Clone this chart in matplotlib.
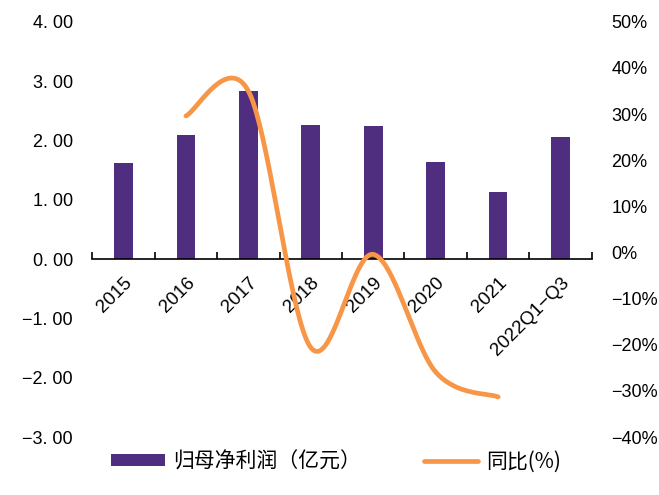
import numpy as np
import matplotlib.pyplot as plt
from matplotlib.ticker import FixedLocator, FuncFormatter
from matplotlib.lines import Line2D
from matplotlib.patches import Patch

plt.rcParams['font.family'] = ['Liberation Sans', 'Noto Sans CJK SC', 'DejaVu Sans']

# data
years = ["2015", "2016", "2017", "2018", "2019", "2020", "2021", "2022Q1\u2212Q3"]
profit = [1.62, 2.10, 2.84, 2.26, 2.24, 1.64, 1.13, 2.05]
yoy_years = ["2016", "2017", "2018", "2019", "2020", "2021"]
yoy = [29.6, 35.0, -20.6, -0.4, -25.9, -31.3]

bar_color = "#4F2D7F"
line_color = "#F79646"


# smoothed curve (Catmull-Rom, like Excel's smoothed line)
def smooth(xs, ys, n=40):
    xs = np.asarray(xs, float)
    ys = np.asarray(ys, float)
    px = np.concatenate([[xs[0]], xs, [xs[-1]]])
    py = np.concatenate([[ys[0]], ys, [ys[-1]]])
    out_x, out_y = [], []
    for i in range(1, len(px) - 2):
        t = np.linspace(0, 1, n)
        for p, out in ((px, out_x), (py, out_y)):
            p0, p1, p2, p3 = p[i - 1], p[i], p[i + 1], p[i + 2]
            out.extend(0.5 * ((2 * p1) + (-p0 + p2) * t
                              + (2 * p0 - 5 * p1 + 4 * p2 - p3) * t ** 2
                              + (-p0 + 3 * p1 - 3 * p2 + p3) * t ** 3))
    return np.array(out_x), np.array(out_y)


fig = plt.figure(figsize=(6.59, 4.95), dpi=100)
ax = fig.add_axes([0.14, 0.117, 0.758, 0.839])
x = np.arange(len(years))
ax.bar(x, profit, width=0.3, color=bar_color, zorder=2)
ax.set_xlim(-0.5, len(years) - 0.5)
ax.set_ylim(-3, 4)
ax.set_yticks(np.arange(-3, 5, 1))
ax.yaxis.set_major_formatter(FuncFormatter(
    lambda v, p: ("{:.2f}".format(v)).replace("-", "\u2212").replace(".", ". ")))
ax.tick_params(axis='y', length=0, labelsize=13, pad=14)
for s in ['top', 'right', 'left']:
    ax.spines[s].set_visible(False)
ax.spines['bottom'].set_position(('data', 0))
ax.spines['bottom'].set_linewidth(1.2)
ax.set_xticks(x)
ax.set_xticklabels(years, rotation=45, ha='right', rotation_mode='anchor', fontsize=13.5)
ax.tick_params(axis='x', which='major', length=0, pad=11)
ax.xaxis.set_minor_locator(FixedLocator(np.arange(-0.5, len(years), 1)))
ax.tick_params(axis='x', which='minor', direction='in', length=5, width=1.2)

ax2 = ax.twinx()
ax2.set_position(ax.get_position())
ax2.set_ylim(-40, 50)
ax2.set_yticks(np.arange(-40, 60, 10))
ax2.yaxis.set_major_formatter(FuncFormatter(
    lambda v, p: ("{:.0f}%".format(v)).replace("-", "\u2212")))
ax2.tick_params(axis='y', length=0, labelsize=13, pad=14)
for s in ax2.spines.values():
    s.set_visible(False)
lx = [years.index(y) for y in yoy_years]
sx, sy = smooth(lx, yoy)
ax2.plot(sx, sy, color=line_color, lw=3.4, solid_capstyle='round', zorder=3)

handles = [Patch(facecolor=bar_color, edgecolor='none'),
           Line2D([0], [0], color=line_color, lw=3.4, solid_capstyle='round')]
fig.legend(handles, ["归母净利润（亿元）", "同比(%)"], loc='center',
           bbox_to_anchor=(0.51, 0.068), ncol=2, frameon=False,
           handlelength=2.6, handleheight=0.45, columnspacing=3.0, handletextpad=0.4,
           prop={'family': ['Noto Sans CJK SC', 'DejaVu Sans'], 'size': 15})

fig.savefig("out.png", dpi=100)
